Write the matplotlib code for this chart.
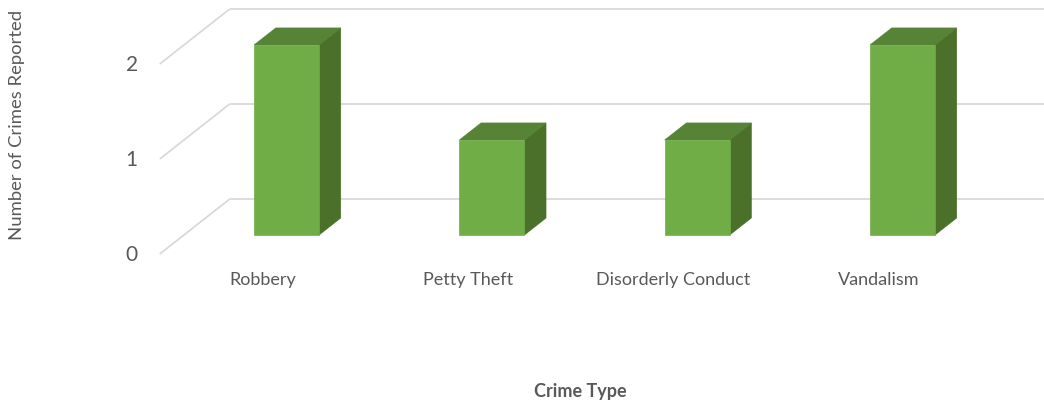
import matplotlib
matplotlib.use('Agg')
import matplotlib.pyplot as plt
from matplotlib.patches import Polygon

plt.rcParams['font.family'] = ['Lato', 'DejaVu Sans']

# 데이터
categories = ['Robbery', 'Petty Theft', 'Disorderly Conduct', 'Vandalism']
counts = [2, 1, 1, 2]
y_ticks = [0, 1, 2]

# 가짜 3D 투영: 깊이 d(0=앞, 1=뒤)에 대한 화면상 이동량 (데이터 단위)
DX, DY = 0.341, 0.579
BAR_HALF = 0.158
D_FRONT, D_BACK = 0.345, 0.655

FRONT = '#70AD47'
TOP = '#578337'
SIDE = '#4A7029'
GRID = '#D9D9D9'
TEXT = '#595959'


def proj(x, v, d):
    return (x + DX * d, v + DY * d)


fig = plt.figure(figsize=(10.44, 4.02), dpi=100)
ax = fig.add_axes([0, 0, 1, 1])
ax.set_xlim(-1.278, 3.807)
ax.set_ylim(-1.547, 2.684)
ax.axis('off')

left = -0.5
right = len(categories) - 0.5 + 1.0

# 격자선 (왼쪽 벽 대각선 + 뒷벽 가로선)
for v in y_ticks:
    x0, y0 = proj(left, v, 0)
    x1, y1 = proj(left, v, 1)
    ax.plot([x0, x1], [y0, y1], color=GRID, lw=1.3, zorder=1,
            solid_capstyle='butt')
    x2, y2 = proj(right, v, 1)
    ax.plot([x1, x2], [y1, y2], color=GRID, lw=1.3, zorder=1,
            solid_capstyle='butt')
    ax.text(left - 0.107, v, str(v), ha='right', va='center',
            fontsize=15, color=TEXT)

# 막대 그리기
for i, (name, val) in enumerate(zip(categories, counts)):
    xl, xr = i - BAR_HALF, i + BAR_HALF
    front = [proj(xl, 0, D_FRONT), proj(xr, 0, D_FRONT),
             proj(xr, val, D_FRONT), proj(xl, val, D_FRONT)]
    side = [proj(xr, 0, D_FRONT), proj(xr, 0, D_BACK),
            proj(xr, val, D_BACK), proj(xr, val, D_FRONT)]
    top = [proj(xl, val, D_FRONT), proj(xr, val, D_FRONT),
           proj(xr, val, D_BACK), proj(xl, val, D_BACK)]
    ax.add_patch(Polygon(side, closed=True, facecolor=SIDE, edgecolor=SIDE,
                         lw=0.5, zorder=3))
    ax.add_patch(Polygon(top, closed=True, facecolor=TOP, edgecolor=TOP,
                         lw=0.5, zorder=3))
    ax.add_patch(Polygon(front, closed=True, facecolor=FRONT, edgecolor=FRONT,
                         lw=0.5, zorder=4))
    ax.text(i, -0.265, name, ha='center', va='center', fontsize=13,
            color=TEXT)

# 축 제목
fig.text(0.0165, 0.69, 'Number of Crimes Reported', rotation=90,
         ha='center', va='center', fontsize=13.3, color=TEXT)
fig.text(0.556, 0.025, 'Crime Type', ha='center', va='center',
         fontsize=13, fontweight='bold', color=TEXT)

fig.savefig('out.png', dpi=100)
